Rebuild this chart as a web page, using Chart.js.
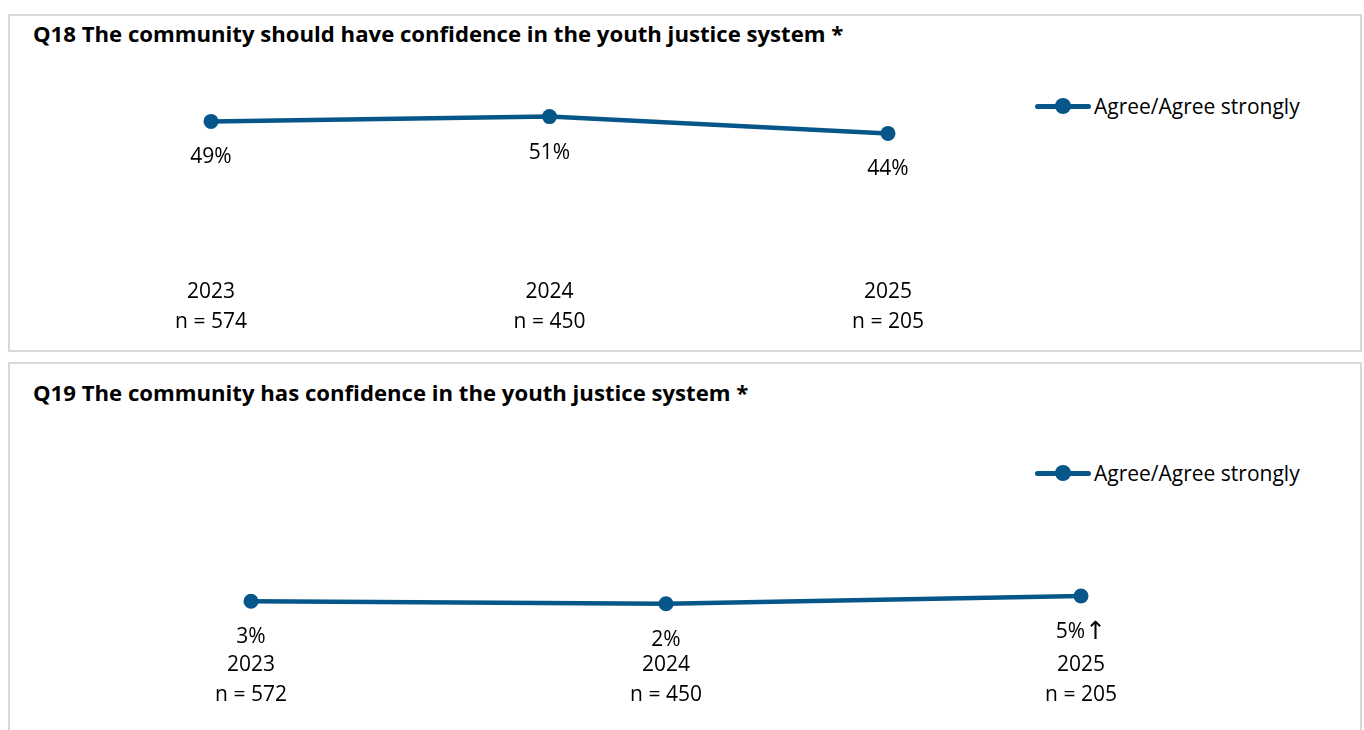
<!DOCTYPE html>
<html>
<head>
<meta charset="utf-8">
<script src="https://cdn.jsdelivr.net/npm/chart.js@4.4.1/dist/chart.umd.min.js"></script>
<style>
  body { margin: 0; background: #fff; font-family: 'Open Sans', sans-serif; overflow: hidden; }
  .panel { position: absolute; left: 8px; width: 1350px; border: 2px solid #d9d9d9; background: #fff; }
  #panel1 { top: 14px; height: 334px; }
  #panel2 { top: 362px; height: 380px; }
  .title { position: absolute; left: 23px; font-weight: bold; font-size: 22.15px; line-height: 26px; color: #000; white-space: nowrap; }
  .legend { position: absolute; left: 1025px; display: flex; align-items: center; font-size: 21px; line-height: 26px; color: #000; }
  .legend .key { position: relative; width: 56px; height: 16px; margin-right: 3px; }
  .legend .key:before { content: ''; position: absolute; left: 0; right: 0; top: 5.5px; height: 5px; background: #06568a; border-radius: 3px; }
  .legend .key:after { content: ''; position: absolute; left: 20px; top: 0; width: 16px; height: 16px; border-radius: 50%; background: #06568a; }
  canvas { position: absolute; left: 0; top: 0; }
</style>
</head>
<body>
<div class="panel" id="panel1">
  <div class="title" style="top:4px">Q18 The community should have confidence in the youth justice system *</div>
  <div class="legend" style="top:77px"><span class="key"></span>Agree/Agree strongly</div>
  <canvas id="q18Chart" width="1350" height="359"></canvas>
</div>
<div class="panel" id="panel2">
  <div class="title" style="top:15px">Q19 The community has confidence in the youth justice system *</div>
  <div class="legend" style="top:96px"><span class="key"></span>Agree/Agree strongly</div>
  <canvas id="q19Chart" width="1350" height="387"></canvas>
</div>

<script>
// Data
const years = ['2023', '2024', '2025'];

const q18Sizes = ['n = 574', 'n = 450', 'n = 205'];
const q18Values = [49, 51, 44];
const q18Labels = ['49%', '51%', '44%'];

const q19Sizes = ['n = 572', 'n = 450', 'n = 205'];
const q19Values = [3, 2, 5];
const q19Labels = ['3%', '2%', '5%↑'];

const lineColor = '#06568a';

Chart.defaults.font.family = "'Open Sans', sans-serif";
Chart.defaults.color = '#000';

// Draws the percentage under each point (arrow marker in a font that has a full-height glyph)
const pointLabels = {
  id: 'pointLabels',
  afterDatasetsDraw(chart, args, opts) {
    const ctx = chart.ctx;
    const meta = chart.getDatasetMeta(0);
    const mainFont = "21px 'Open Sans'";
    const arrowFont = "25px 'DejaVu Sans'";
    ctx.save();
    ctx.fillStyle = '#000';
    ctx.textAlign = 'left';
    ctx.textBaseline = 'middle';
    meta.data.forEach((pt, i) => {
      let text = opts.labels[i];
      let arrow = '';
      if (text.endsWith('↑')) {
        arrow = '↑';
        text = text.slice(0, -1);
      }
      ctx.font = mainFont;
      const w1 = ctx.measureText(text).width;
      ctx.font = arrowFont;
      const w2 = arrow ? ctx.measureText(arrow).width : 0;
      const x0 = pt.x - (w1 + w2) / 2;
      const y = pt.y + opts.offset;
      ctx.font = mainFont;
      ctx.fillText(text, x0, y);
      if (arrow) {
        ctx.font = arrowFont;
        ctx.fillText(arrow, x0 + w1, y);
      }
    });
    ctx.restore();
  }
};

function makeChart(id, sizes, values, labels, padding, tickPadding) {
  const ctx = document.getElementById(id).getContext('2d');
  return new Chart(ctx, {
    type: 'line',
    data: {
      labels: years.map((y, i) => [y, sizes[i]]),
      datasets: [{
        label: 'Agree/Agree strongly',
        data: values,
        borderColor: lineColor,
        backgroundColor: lineColor,
        borderWidth: 4.5,
        pointRadius: 7.5,
        pointBackgroundColor: lineColor,
        pointBorderWidth: 0,
        tension: 0,
        clip: false
      }]
    },
    options: {
      responsive: false,
      animation: false,
      layout: { padding: padding },
      plugins: {
        legend: { display: false },
        tooltip: { enabled: false },
        pointLabels: { labels: labels, offset: 36 }
      },
      scales: {
        x: {
          offset: false,
          border: { display: false },
          grid: { display: false, drawTicks: false },
          ticks: { padding: tickPadding, font: { size: 21, lineHeight: 30 / 21 }, color: '#000', maxRotation: 0 }
        },
        y: {
          display: false,
          min: 0,
          max: 60
        }
      }
    },
    plugins: [pointLabels]
  });
}

makeChart('q18Chart', q18Sizes, q18Values, q18Labels, { left: 201, right: 472, top: 79, bottom: 0 }, 38);
makeChart('q19Chart', q19Sizes, q19Values, q19Labels, { left: 241, right: 279, top: 89, bottom: 0 }, 41);
</script>
</body>
</html>
